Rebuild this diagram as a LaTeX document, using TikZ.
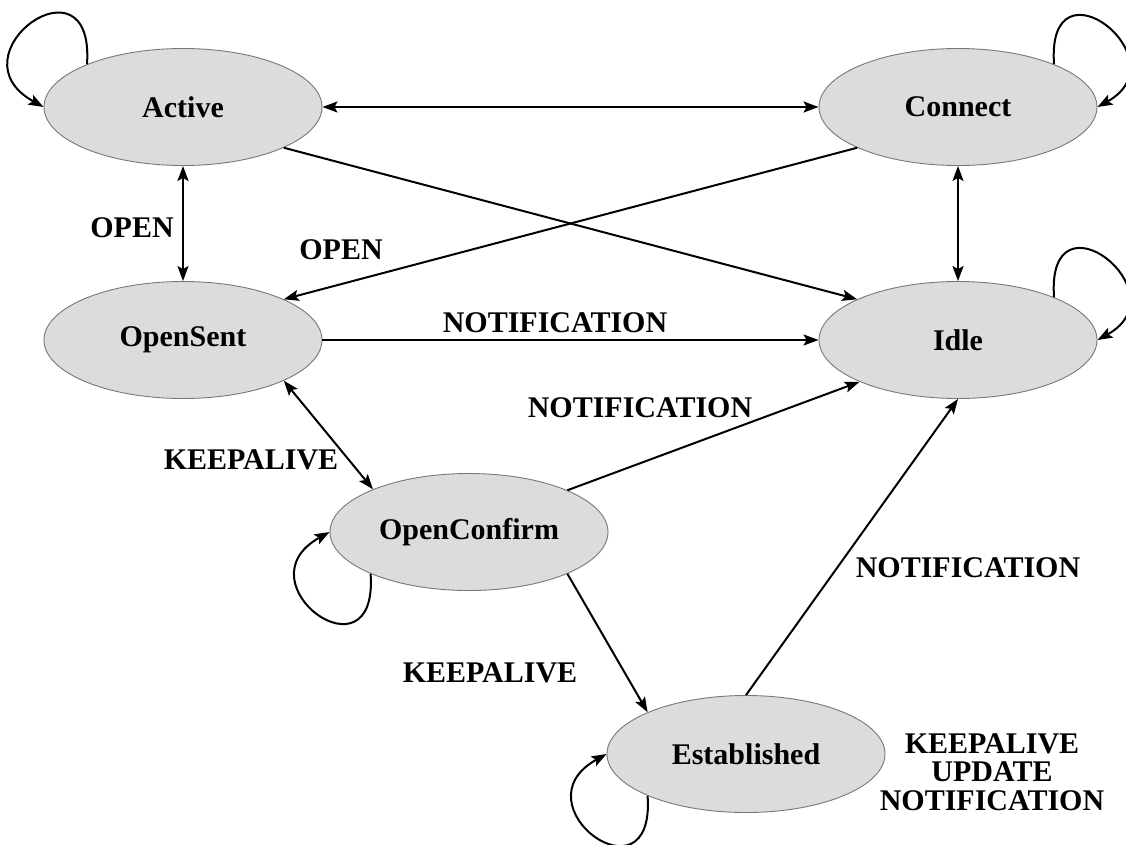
\documentclass[tikz,border=0pt]{standalone}
\usepackage{fontspec}
\setmainfont{Liberation Serif}
\usetikzlibrary{shapes.geometric,arrows.meta}
\definecolor{stfill}{RGB}{220,220,220}
\definecolor{stline}{RGB}{120,120,120}
\tikzset{
  state/.style={ellipse, draw=stline, line width=0.9pt, fill=stfill,
    minimum width=278pt, minimum height=117pt, inner sep=0pt,
    font=\fontsize{30}{32}\selectfont\bfseries},
  lbl/.style={font=\fontsize{30}{28.5}\selectfont\bfseries, inner sep=0pt, align=center},
  tip/.style={},
  arr/.style={line width=2pt, -{Stealth[length=15pt,width=11pt,inset=3pt]}},
  darr/.style={line width=2pt, {Stealth[length=15pt,width=11pt,inset=3pt]}-{Stealth[length=15pt,width=11pt,inset=3pt]}}
}
\begin{document}
\begin{tikzpicture}[x=1pt,y=1pt]
\clip (0,0) rectangle (1126,-844);
\fill[white] (0,0) rectangle (1126,-844);

\node[state] (active) at (183,-107) {Active};
\node[state] (connect) at (958,-107) {Connect};
\node[state] (opensent) at (183,-340) {OpenSent};
\node[state] (idle) at (958,-340) {Idle};
\node[state] (openconfirm) at (469,-532) {OpenConfirm};
\node[state] (established) at (746,-754) {Established};

% straight connectors
\draw[darr] (active.east) -- (connect.west);
\draw[darr] (active.south) -- (opensent.north);
\draw[darr] (connect.south) -- (idle.north);
\draw[arr] (active.-22) -- (idle.158);
\draw[arr] (connect.202) -- (opensent.22);
\draw[arr] (opensent.east) -- (idle.west);
\draw[darr] (opensent.-22) -- (openconfirm.156);
\draw[arr] (openconfirm.23) -- (idle.203);
\draw[arr] (openconfirm.-23) -- (established.157);
\draw[arr] (established.north) -- (idle.south);

% self loops
\draw[arr] (active.156) to[out=86,in=151,out distance=115pt,in distance=108pt] (active.west);
\draw[arr] (connect.24) to[out=94,in=29,out distance=112pt,in distance=98pt] (connect.east);
\draw[arr] (idle.24) to[out=94,in=29,out distance=112pt,in distance=98pt] (idle.east);
\draw[arr] (openconfirm.203) to[out=-86,in=-151,out distance=112pt,in distance=105pt] (openconfirm.west);
\draw[arr] (established.203) to[out=-86,in=-151,out distance=112pt,in distance=105pt] (established.west);

% labels
\node[lbl] (l1) at (132,-228) {OPEN};
\node[lbl] (l2) at (341,-250) {OPEN};
\node[lbl] (l3) at (555,-323) {NOTIFICATION};
\node[lbl] (l4) at (640,-408) {NOTIFICATION};
\node[lbl] (l5) at (251,-460) {KEEPALIVE};
\node[lbl] (l6) at (490,-673) {KEEPALIVE};
\node[lbl] (l7) at (968,-568) {NOTIFICATION};
\node[lbl] (l8) at (992,-772) {KEEPALIVE\\UPDATE\\NOTIFICATION};
\end{tikzpicture}
\end{document}
